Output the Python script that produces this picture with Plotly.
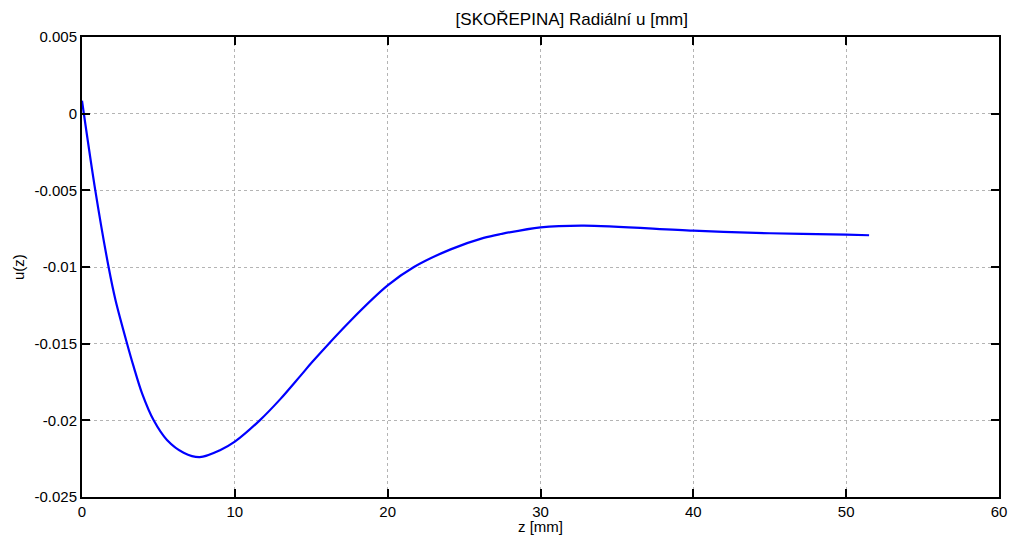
import plotly.graph_objects as go

# odečtené body křivky (z [mm], u [mm])
z = [0.0, 0.87, 1.74, 2.19, 2.95, 3.38, 3.93, 4.69, 5.56, 6.65, 7.7, 9.06,
     10.0, 11.63, 12.99, 14.29, 15.06, 17.57, 20.0, 21.72, 24.12, 26.28, 27.4,
     30.0, 32.85, 40.0, 45.0, 50.0, 51.5]
u = [0.00085, -0.005, -0.01, -0.01215, -0.015, -0.0165, -0.01824, -0.02,
     -0.02128, -0.02211, -0.0224, -0.02193, -0.02139, -0.02, -0.0186, -0.0171,
     -0.0162, -0.0135, -0.0112, -0.01, -0.00885, -0.0081, -0.00785, -0.00741,
     -0.0073, -0.00763, -0.0078, -0.00789, -0.00793]

x_ticks = [0, 10, 20, 30, 40, 50, 60]
y_ticks = [0.005, 0, -0.005, -0.01, -0.015, -0.02, -0.025]
y_labels = ["0.005", "0", "-0.005", "-0.01", "-0.015", "-0.02", "-0.025"]

fig = go.Figure()
fig.add_trace(go.Scatter(
    x=z, y=u, mode="lines",
    line=dict(color="#0000ff", width=2.2, shape="spline", smoothing=0.9),
    showlegend=False
))

axis_common = dict(
    showline=True, linecolor="black", linewidth=2, mirror="allticks",
    ticks="inside", ticklen=8, tickwidth=2, tickcolor="black",
    showgrid=True, gridcolor="#b4b4b4", griddash="dot", gridwidth=1,
    zeroline=False, tickfont=dict(size=15, color="black"), automargin=False,
    ticklabeloverflow="allow",
)

fig.update_xaxes(range=[0, 60], tickvals=x_ticks, **axis_common)
fig.update_yaxes(range=[-0.025, 0.005], tickvals=y_ticks, ticktext=y_labels,
                 **axis_common)

fig.update_layout(
    width=1011, height=538,
    margin=dict(l=82, r=12, t=37, b=41),
    paper_bgcolor="white", plot_bgcolor="white",
    font=dict(family="Liberation Sans, Arial, sans-serif", color="black"),
    title=dict(text="[SKOŘEPINA] Radiální u [mm]", x=540 / 1011, xanchor="center",
               xref="paper", y=1 - 19 / 538, yanchor="middle",
               font=dict(size=17, color="black")),
)

# popisky os
fig.add_annotation(text="z [mm]", xref="paper", yref="paper", x=0.5, y=-40 / 460,
                   yanchor="bottom", showarrow=False, font=dict(size=15, color="black"))
fig.add_annotation(text="u(z)", xref="paper", yref="paper", x=-64 / 917, y=0.5,
                   textangle=-90, xanchor="center", showarrow=False,
                   font=dict(size=15, color="black"))

# bez okraje stránky, aby graf vyplnil celé okno
fig.write_html("out.html", config={"displayModeBar": False},
               post_script="document.body.style.margin='0';")
